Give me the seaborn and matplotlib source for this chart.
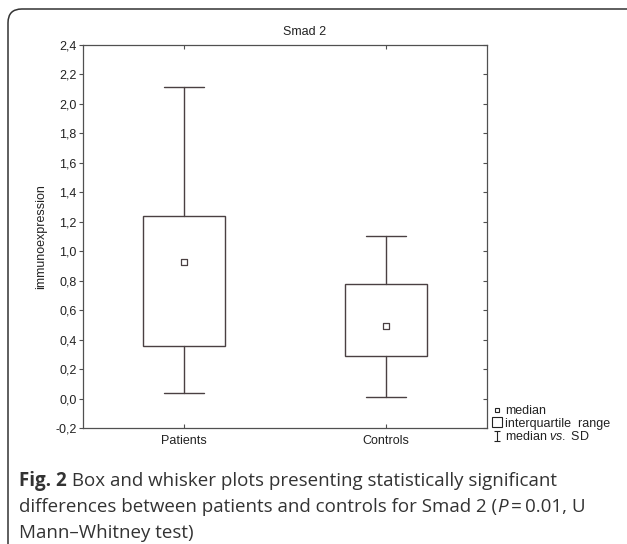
"""
Smad 2 immunoexpression: patients vs controls (box = IQR, whiskers = median vs SD)
"""
import numpy as np
import matplotlib
matplotlib.use("Agg")
import matplotlib.pyplot as plt
from matplotlib.lines import Line2D
from matplotlib.path import Path
from matplotlib.patches import FancyBboxPatch
from matplotlib.ticker import FuncFormatter, MultipleLocator
import seaborn as sns

# ======== data ========
groups = ["Patients", "Controls"]
medians = [0.93, 0.49]
q1 = [0.355, 0.29]
q3 = [1.24, 0.78]
whisker_low = [0.035, 0.01]
whisker_high = [2.115, 1.105]

title = "Smad 2"
ylabel = "immunoexpression"
legend_labels = ["median", "interquartile  range", r"median $\mathit{vs.}$ SD"]

# ======== style ========
sns.set_style("white")
plt.rcParams["font.family"] = ["Liberation Sans", "DejaVu Sans"]
plt.rcParams["mathtext.fontset"] = "custom"
plt.rcParams["mathtext.rm"] = "Liberation Sans"
plt.rcParams["mathtext.it"] = "Liberation Sans:italic"

LINE = "#4a4042"
SPINE = "#505050"
TXT = "#222222"
FS = 9

fig = plt.figure(figsize=(6.27, 5.44), dpi=100)
W, H = 627, 544
ax = fig.add_axes([83 / W, 1 - 428 / H, 404 / W, 383 / H])

# boxes and whiskers
stats = [dict(med=m, q1=a, q3=b, whislo=lo, whishi=hi, fliers=[])
         for m, a, b, lo, hi in zip(medians, q1, q3, whisker_low, whisker_high)]
pos = np.arange(len(groups))
ax.bxp(stats, positions=pos, widths=0.41, capwidths=0.2, showfliers=False,
       manage_ticks=False, patch_artist=True,
       boxprops=dict(facecolor="white", edgecolor=LINE, linewidth=1.0),
       whiskerprops=dict(color=LINE, linewidth=1.0),
       capprops=dict(color=LINE, linewidth=1.0),
       medianprops=dict(linewidth=0))

# median markers
sns.scatterplot(x=pos, y=medians, marker="s", s=13, color="white",
                edgecolor=LINE, linewidth=0.9, zorder=4, ax=ax, legend=False)

ax.set_xlim(-0.5, len(groups) - 0.5)
ax.set_ylim(-0.2, 2.4)
ax.set_xticks(pos)
ax.set_xticklabels(groups)
ax.yaxis.set_major_locator(MultipleLocator(0.2))
ax.yaxis.set_major_formatter(FuncFormatter(lambda v, p: f"{v:.1f}".replace(".", ",").replace("-0,0", "0,0")))

for s in ax.spines.values():
    s.set_color(SPINE)
    s.set_linewidth(0.9)
ax.tick_params(axis="y", which="major", left=True, right=False, direction="out",
               length=3, width=0.8, color=SPINE, labelsize=FS, labelcolor=TXT, pad=1.5)
ax.tick_params(axis="x", which="major", bottom=True, top=True, direction="in",
               length=3, width=0.8, color=SPINE, labelsize=FS, labelcolor=TXT, pad=5)
# right-side inward ticks
ax_r = ax.secondary_yaxis("right")
ax_r.yaxis.set_major_locator(MultipleLocator(0.2))
ax_r.tick_params(direction="in", length=3, width=0.8, color=SPINE, labelright=False)
ax_r.spines["right"].set_visible(False)

ax.set_ylabel(ylabel, fontsize=FS, color=TXT)
ax.yaxis.set_label_coords(-0.089, 0.5)
fig.text(305 / W, 1 - 32 / H, title, ha="center", va="center", fontsize=FS, color=TXT)

# legend
i_marker = Path([(-0.5, -1), (0.5, -1), (0, -1), (0, 1), (-0.5, 1), (0.5, 1)],
                [Path.MOVETO, Path.LINETO, Path.MOVETO, Path.LINETO, Path.MOVETO, Path.LINETO])
handles = [
    Line2D([], [], ls="", marker="s", ms=3.3, mfc="white", mec=TXT, mew=0.8),
    Line2D([], [], ls="", marker="s", ms=7, mfc="white", mec=TXT, mew=0.8),
    Line2D([], [], ls="", marker=i_marker, ms=7.5, mfc="none", mec=TXT, mew=0.8),
]
ax.legend(handles, legend_labels, loc="upper left", bbox_to_anchor=(492 / W, 1 - 405 / H),
          bbox_transform=fig.transFigure, frameon=False, fontsize=FS, handlelength=0.8,
          handletextpad=0.25, borderpad=0, borderaxespad=0, labelspacing=0.05,
          labelcolor=TXT)

# outer rounded frame (runs past the right and bottom edges)
frame = FancyBboxPatch((8 / W, -0.05), 1.1, 1 - 9 / H + 0.05,
                       boxstyle="round,pad=0,rounding_size=0.022",
                       transform=fig.transFigure, fill=False, ec="#333333", lw=1.1,
                       mutation_aspect=W / H)
fig.patches.append(frame)

# caption
CAP_FONT = ["Open Sans", "DejaVu Sans"]
CAP_FS = 13.5
renderer = fig.canvas.get_renderer()


def write_line(pieces, x_px, y_px):
    x = x_px / W
    for txt, kw in pieces:
        t = fig.text(x, 1 - y_px / H, txt, ha="left", va="baseline", fontsize=CAP_FS,
                     family=CAP_FONT, color="#333333", **kw)
        x = t.get_window_extent(renderer).x1 / fig.bbox.width


write_line([("Fig. 2", dict(fontweight="bold")),
            (" Box and whisker plots presenting statistically significant", {})], 19, 486)
write_line([("differences between patients and controls for Smad 2 (", {}),
            ("P", dict(style="italic")), ("\u2009=\u20090.01, U", {})], 19, 512.5)
write_line([("Mann\u2013Whitney test)", {})], 19, 538)

fig.savefig("out.png", dpi=100)
